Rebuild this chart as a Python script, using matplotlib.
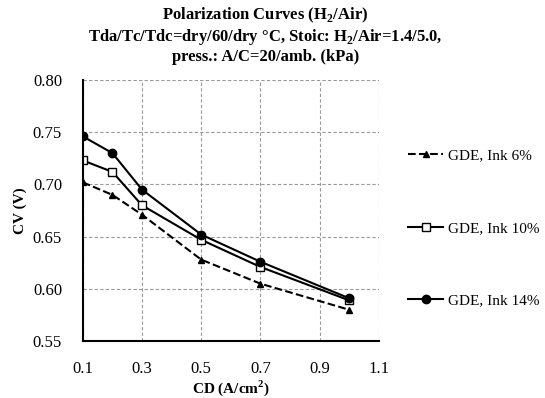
import matplotlib.pyplot as plt

cd = [0.1, 0.2, 0.3, 0.5, 0.7, 1.0]
cv_ink6 = [0.702, 0.690, 0.671, 0.628, 0.605, 0.580]
cv_ink10 = [0.723, 0.712, 0.680, 0.647, 0.621, 0.589]
cv_ink14 = [0.746, 0.730, 0.695, 0.652, 0.626, 0.591]
labels = ["GDE, Ink 6%", "GDE, Ink 10%", "GDE, Ink 14%"]

plt.rcParams['font.family'] = ['Liberation Serif', 'DejaVu Serif']
plt.rcParams['mathtext.fontset'] = 'custom'
plt.rcParams['mathtext.rm'] = 'Liberation Serif'
plt.rcParams['mathtext.bf'] = 'Liberation Serif:bold'

fig = plt.figure(figsize=(5.45, 3.98), dpi=100)
ax = fig.add_axes([0.152, 0.143, 0.543, 0.656])

ax.plot(cd, cv_ink6, color='black', linestyle='--', lw=1.5, marker='^',
        markersize=4.5, label=labels[0])
ax.plot(cd, cv_ink10, color='black', linestyle='-', lw=1.5, marker='s',
        markersize=6, markerfacecolor='white', label=labels[1])
ax.plot(cd, cv_ink14, color='black', linestyle='-', lw=1.5, marker='o',
        markersize=6, label=labels[2])

ax.set_xlim(0.1, 1.1)
ax.set_ylim(0.55, 0.80)
ax.set_xticks([0.1, 0.3, 0.5, 0.7, 0.9, 1.1])
ax.set_yticks([0.55, 0.60, 0.65, 0.70, 0.75, 0.80])
ax.set_yticklabels(["%.2f" % v for v in [0.55, 0.60, 0.65, 0.70, 0.75, 0.80]])
ax.tick_params(length=0, labelsize=12)
ax.tick_params(axis='x', pad=14)
ax.tick_params(axis='y', pad=15)
ax.grid(True, color='#999999', linestyle=(0, (3, 2)), lw=0.8)
for s in ['top', 'right']:
    ax.spines[s].set_visible(False)
for s in ['left', 'bottom']:
    ax.spines[s].set_linewidth(1.5)

ax.set_xlabel(r"CD (A/cm$^{\mathbf{2}}$)", fontweight='bold', fontsize=11, labelpad=1)
ax.set_ylabel("CV (V)", fontweight='bold', fontsize=11, labelpad=4)

fig.text(0.487, 0.985,
         "Polarization Curves (H$_{\\mathbf{2}}$/Air)\n"
         "Tda/Tc/Tdc=dry/60/dry \u00b0C, Stoic: H$_{\\mathbf{2}}$/Air=1.4/5.0,\n"
         "press.: A/C=20/amb. (kPa)",
         ha='center', va='top', fontweight='bold', fontsize=12, linespacing=1.15)

ax.legend(loc='upper left', bbox_to_anchor=(0.735, 0.645), bbox_transform=fig.transFigure,
          frameon=False, fontsize=11, labelspacing=3.85, handlelength=2.3,
          handletextpad=0.3, borderpad=0)

fig.savefig("out.png", dpi=100)
